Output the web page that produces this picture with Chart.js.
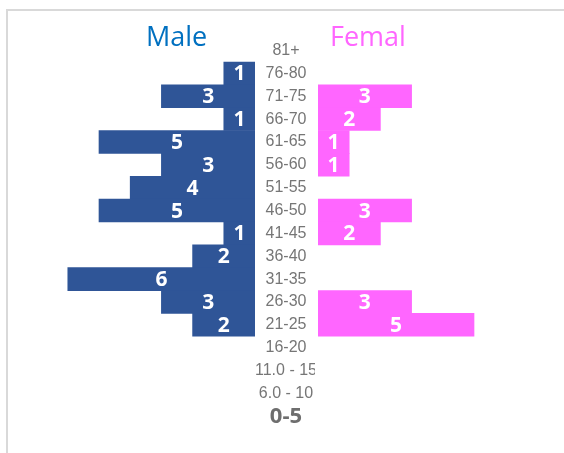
<!DOCTYPE html>
<html>
<head>
<meta charset="utf-8">
<script src="https://cdn.jsdelivr.net/npm/chart.js@4"></script>
<style>
  body { margin: 0; background: #fff; }
  #frame { position: absolute; left: 6px; top: 9px; width: 700px; height: 600px;
           border-left: 2px solid #d9d9d9; border-top: 2px solid #d9d9d9; }
  #left { position: absolute; left: 0; top: 0; }
  #right { position: absolute; left: 315px; top: 0; }
  .ttl { position: absolute; top: 18px; font-family: "Open Sans", sans-serif; font-size: 27px; line-height: 1.362; }
</style>
</head>
<body>
<div id="frame"></div>
<canvas id="left" width="318" height="453"></canvas>
<canvas id="right" width="249" height="453"></canvas>
<div class="ttl" style="left:146px;color:#0070c0">Male</div>
<div class="ttl" style="left:330px;color:#ff66ff">Femal</div>
<script>
const ageGroups = ["81+", "76-80", "71-75", "66-70", "61-65", "56-60", "51-55", "46-50",
    "41-45", "36-40", "31-35", "26-30", "21-25", "16-20", "11.0 - 15", "6.0 - 10", "0-5"];
const male =   [0, 1, 3, 1, 5, 3, 4, 5, 1, 2, 6, 3, 2, 0, 0, 0, 0];
const female = [0, 0, 3, 2, 1, 1, 0, 3, 2, 0, 0, 3, 5, 0, 0, 0, 0];

// empty groups get no bar at all (otherwise a hairline shows)
const noZero = (arr) => arr.map(v => v === 0 ? null : v);

// white numbers in the middle of each bar
const barLabels = {
    id: 'barLabels',
    afterDatasetsDraw(chart) {
        const c = chart.ctx;
        const meta = chart.getDatasetMeta(0);
        const data = chart.data.datasets[0].data;
        c.save();
        c.fillStyle = '#fff';
        c.font = 'bold 21px "Open Sans"';
        c.textAlign = 'center';
        c.textBaseline = 'middle';
        meta.data.forEach((bar, i) => {
            if (!data[i]) return;
            const p = bar.getCenterPoint();
            c.fillText(data[i], p.x, p.y + 1);
        });
        c.restore();
    }
};

// right chart hides the overflow of long age labels
const whiteBack = {
    id: 'whiteBack',
    beforeDraw(chart) {
        const a = chart.chartArea;
        chart.ctx.save();
        chart.ctx.fillStyle = '#fff';
        chart.ctx.fillRect(0, a.top, chart.width, a.bottom - a.top);
        chart.ctx.restore();
    }
};

const rowTop = 39.1, rowBottom = 25.3;

new Chart(document.getElementById('left'), {
    type: 'bar',
    data: {
        labels: ageGroups,
        datasets: [{
            data: noZero(male),
            backgroundColor: '#2f5597',
            barPercentage: 1,
            categoryPercentage: 1
        }]
    },
    options: {
        indexAxis: 'y',
        responsive: false,
        animation: false,
        layout: { padding: { left: 5.4, right: 0, top: rowTop, bottom: rowBottom } },
        plugins: { legend: { display: false }, tooltip: { enabled: false } },
        scales: {
            x: { display: false, reverse: true, min: 0, max: 8 },
            y: {
                position: 'right',
                grid: { display: false, drawTicks: false },
                border: { display: false },
                afterFit: (s) => { s.width = 63; },
                ticks: {
                    autoSkip: false,
                    crossAlign: 'center',
                    padding: 0,
                    color: (ctx) => ctx.index === 16 ? '#6e6e6e' : '#767676',
                    font: (ctx) => ctx.index === 16
                        ? { family: '"Open Sans"', size: 22, weight: 'bold' }
                        : { family: '"Liberation Sans"', size: 16 }
                }
            }
        }
    },
    plugins: [barLabels]
});

new Chart(document.getElementById('right'), {
    type: 'bar',
    data: {
        labels: ageGroups,
        datasets: [{
            data: noZero(female),
            backgroundColor: '#ff66ff',
            barPercentage: 1,
            categoryPercentage: 1
        }]
    },
    options: {
        indexAxis: 'y',
        responsive: false,
        animation: false,
        layout: { padding: { left: 3, right: 27.6, top: rowTop, bottom: rowBottom } },
        plugins: { legend: { display: false }, tooltip: { enabled: false } },
        scales: {
            x: { display: false, min: 0, max: 7 },
            y: { display: false }
        }
    },
    plugins: [whiteBack, barLabels]
});
</script>
</body>
</html>
